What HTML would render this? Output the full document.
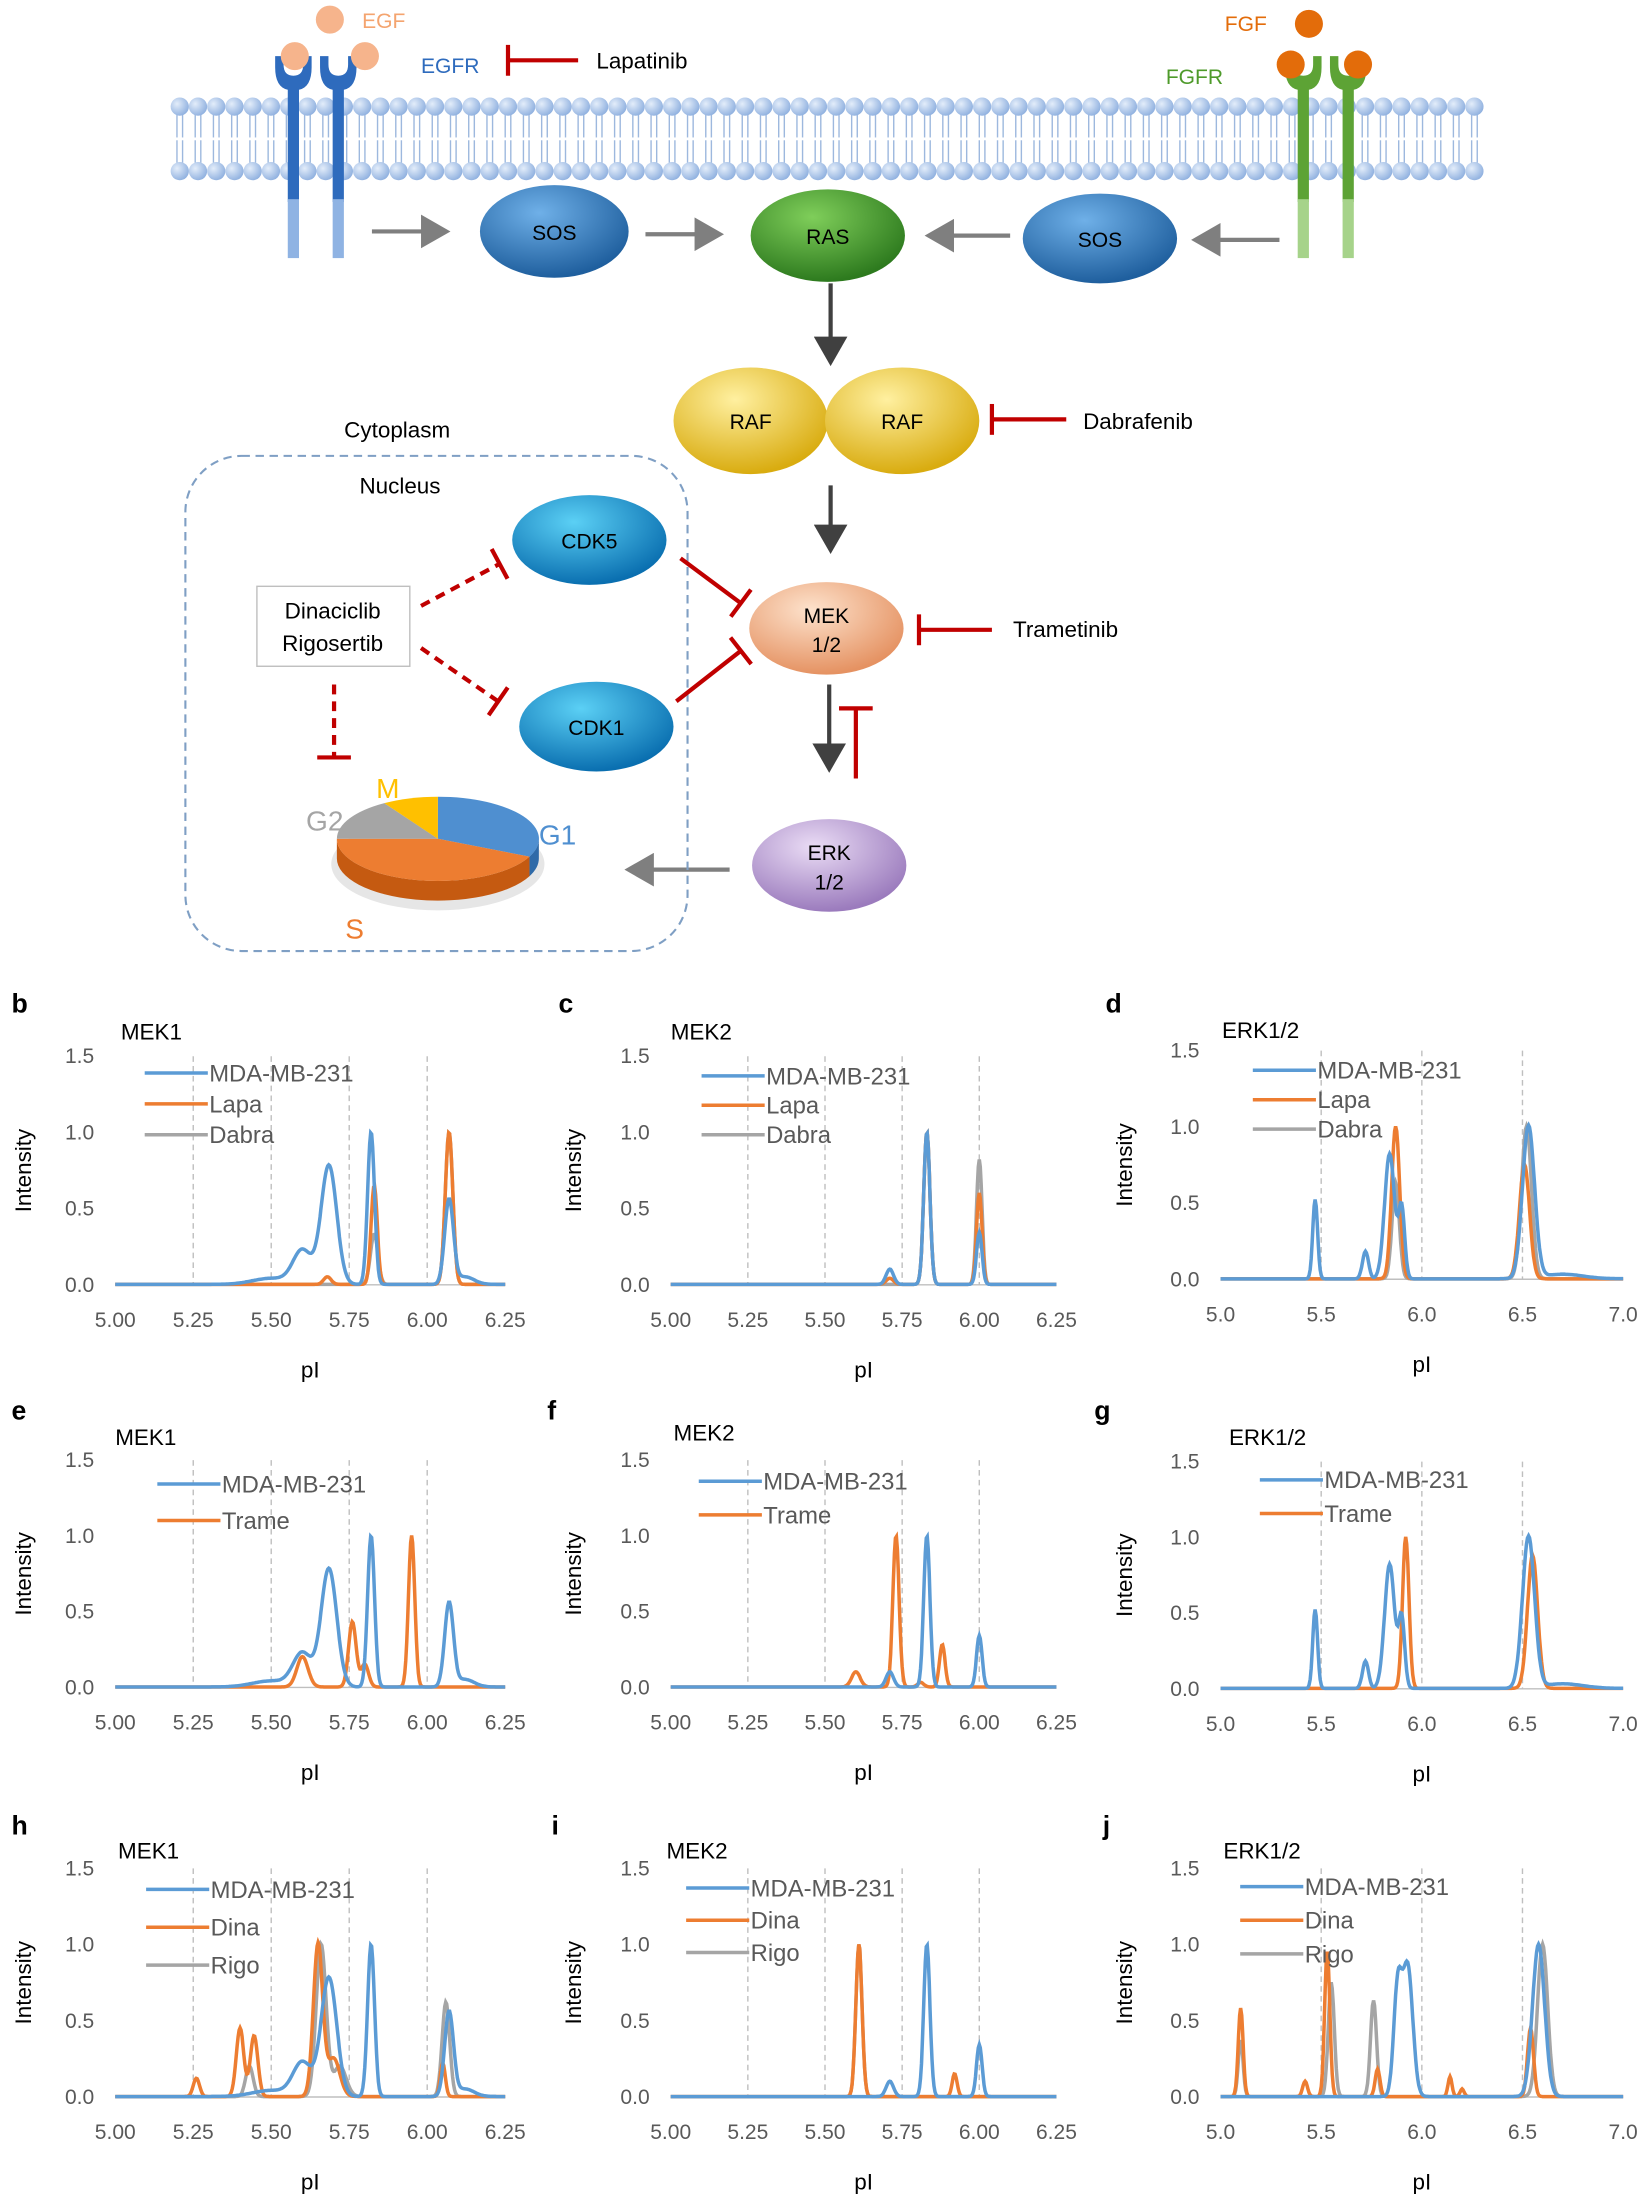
<!DOCTYPE html>
<html><head><meta charset="utf-8"><style>
html,body{margin:0;padding:0;background:#fff;}
svg{display:block;font-family:"Liberation Sans",sans-serif;}
</style></head><body>
<svg id="s" width="1650" height="2205" viewBox="0 0 1176 1572" xmlns="http://www.w3.org/2000/svg">
<defs>
<radialGradient id="gb" cx="40%" cy="30%" r="70%"><stop offset="0" stop-color="#6fb0e8"/><stop offset="1" stop-color="#1f5f9e"/></radialGradient>
<radialGradient id="gg" cx="40%" cy="30%" r="70%"><stop offset="0" stop-color="#7fce5a"/><stop offset="1" stop-color="#2d7a1e"/></radialGradient>
<radialGradient id="gy" cx="40%" cy="30%" r="70%"><stop offset="0" stop-color="#fff0a0"/><stop offset="1" stop-color="#d9ac10"/></radialGradient>
<radialGradient id="gp" cx="40%" cy="30%" r="70%"><stop offset="0" stop-color="#fde2cc"/><stop offset="1" stop-color="#e59262"/></radialGradient>
<radialGradient id="gv" cx="40%" cy="30%" r="70%"><stop offset="0" stop-color="#eadcf5"/><stop offset="1" stop-color="#9b7bbd"/></radialGradient>
<radialGradient id="gc" cx="40%" cy="30%" r="70%"><stop offset="0" stop-color="#5bd0f5"/><stop offset="1" stop-color="#0a6fb0"/></radialGradient>
<radialGradient id="gh" cx="35%" cy="35%" r="70%"><stop offset="0" stop-color="#e3edfa"/><stop offset="1" stop-color="#8fb0df"/></radialGradient>
<marker id="ar" markerWidth="8" markerHeight="8" refX="6" refY="4" orient="auto" markerUnits="strokeWidth"><path d="M0,0 L7,4 L0,8 z" fill="#7f7f7f"/></marker>
<marker id="ad" markerWidth="8" markerHeight="8" refX="6" refY="4" orient="auto" markerUnits="strokeWidth"><path d="M0,0 L7,4 L0,8 z" fill="#404040"/></marker>
</defs>
<g id="g"></g>
</svg>
<script>
var G=document.getElementById('g'),h='';
function A(s){h+=s;}
function T(x,y,t,o){o=o||{};A('<text x="'+x+'" y="'+y+'" font-size="'+(o.s||16)+'" fill="'+(o.c||'#000')+'"'+(o.a?' text-anchor="'+o.a+'"':'')+(o.w?' font-weight="'+o.w+'"':'')+(o.t?' transform="'+o.t+'"':'')+'>'+t+'</text>');}
for(var x=128;x<=1052;x+=13){
 A('<line x1="'+(x-2)+'" y1="82" x2="'+(x-2)+'" y2="98" stroke="#9db8de" stroke-width="1"/><line x1="'+(x+2)+'" y1="82" x2="'+(x+2)+'" y2="98" stroke="#9db8de" stroke-width="1"/>');
 A('<line x1="'+(x-2)+'" y1="100" x2="'+(x-2)+'" y2="116" stroke="#9db8de" stroke-width="1"/><line x1="'+(x+2)+'" y1="100" x2="'+(x+2)+'" y2="116" stroke="#9db8de" stroke-width="1"/>');
 A('<circle cx="'+x+'" cy="76" r="6.5" fill="url(#gh)"/><circle cx="'+x+'" cy="122" r="6.5" fill="url(#gh)"/>');
}
function rec(cx,col,light){
 [cx-16,cx+16].forEach(function(c){
  A('<path d="M'+(c-13)+',40 v8 q0,14 9,16 v80 h8 v-80 q9,-2 9,-16 v-8 h-6 v6 q0,8 -7,8 q-7,0 -7,-8 v-6 z" fill="'+col+'"/>');
  A('<rect x="'+(c-4)+'" y="142" width="8" height="42" fill="'+light+'"/>');
 });
}
rec(225,'#2e6bbd','#8fb3e3');
rec(945,'#5da335','#a6d38a');
A('<circle cx="235" cy="14" r="10" fill="#f6b48c"/><circle cx="210" cy="40" r="10" fill="#f6b48c"/><circle cx="260" cy="40" r="10" fill="#f6b48c"/>');
A('<circle cx="933" cy="17" r="10" fill="#e36c0a"/><circle cx="920" cy="46" r="10" fill="#e36c0a"/><circle cx="968" cy="46" r="10" fill="#e36c0a"/>');
T(258,20,'EGF',{c:'#f4a46f',s:15});T(300,52,'EGFR',{c:'#2e6bbd',s:15});
T(873,22,'FGF',{c:'#e36c0a',s:15});T(831,60,'FGFR',{c:'#4e9a2a',s:15});
function inh(x1,y,x2,b){A('<line x1="'+x1+'" y1="'+y+'" x2="'+x2+'" y2="'+y+'" stroke="#c00000" stroke-width="3"/><line x1="'+b+'" y1="'+(y-11)+'" x2="'+b+'" y2="'+(y+11)+'" stroke="#c00000" stroke-width="3"/>');}
inh(362,43,412,362);T(425,49,'Lapatinib');
inh(707,299,760,707);T(772,306,'Dabrafenib');
inh(655,449,707,655);T(722,454,'Trametinib');
function ell(cx,cy,rx,ry,f,t1,t2){A('<ellipse cx="'+cx+'" cy="'+cy+'" rx="'+rx+'" ry="'+ry+'" fill="'+f+'"/>');if(t2){T(cx,cy-4,t1,{a:'middle',s:15});T(cx,cy+17,t2,{a:'middle',s:15});}else T(cx,cy+6,t1,{a:'middle',s:15});}
ell(395,165,53,33,'url(#gb)','SOS');ell(590,168,55,33,'url(#gg)','RAS');ell(784,170,55,32,'url(#gb)','SOS');
ell(535,300,55,38,'url(#gy)','RAF');ell(643,300,55,38,'url(#gy)','RAF');
ell(589,448,55,33,'url(#gp)','MEK','1/2');ell(591,617,55,33,'url(#gv)','ERK','1/2');
ell(420,385,55,32,'url(#gc)','CDK5');ell(425,518,55,32,'url(#gc)','CDK1');
function arr(x1,y1,x2,y2,m,c){A('<line x1="'+x1+'" y1="'+y1+'" x2="'+x2+'" y2="'+y2+'" stroke="'+(c||'#7f7f7f')+'" stroke-width="3" marker-end="url(#'+(m||'ar')+')"/>');}
arr(265,165,318,165);arr(460,167,513,167);arr(720,168,662,168);arr(912,171,852,171);
arr(592,202,592,258,'ad','#404040');arr(592,346,592,392,'ad','#404040');arr(591,488,591,548,'ad','#404040');
arr(520,620,448,620);
A('<line x1="610" y1="555" x2="610" y2="505" stroke="#c00000" stroke-width="3"/><line x1="598" y1="505" x2="622" y2="505" stroke="#c00000" stroke-width="3"/>');
A('<rect x="132" y="325" width="358" height="353" rx="40" fill="none" stroke="#7f9fc4" stroke-width="1.5" stroke-dasharray="6,4"/>');
T(283,312,'Cytoplasm',{a:'middle',s:16});T(285,352,'Nucleus',{a:'middle',s:16});
A('<rect x="183" y="418" width="109" height="57" fill="#fff" stroke="#bfbfbf"/>');T(237,441,'Dinaciclib',{a:'middle',s:16});T(237,464,'Rigosertib',{a:'middle',s:16});
function rl(x1,y1,x2,y2,d){A('<line x1="'+x1+'" y1="'+y1+'" x2="'+x2+'" y2="'+y2+'" stroke="#c00000" stroke-width="3"'+(d?' stroke-dasharray="7,5"':'')+'/>');
 var dx=x2-x1,dy=y2-y1,L=Math.hypot(dx,dy),px=-dy/L*12,py=dx/L*12;A('<line x1="'+(x2+px)+'" y1="'+(y2+py)+'" x2="'+(x2-px)+'" y2="'+(y2-py)+'" stroke="#c00000" stroke-width="3"/>');}
rl(300,432,356,402,1);rl(300,462,355,500,1);rl(238,488,238,540,1);
rl(485,398,528,430);rl(482,500,528,464);
// pie
(function(){
 var cx=312,cy=598,rx=72,ry=30,d=14;
 function P(t,dy){return (cx+rx*Math.cos(t)).toFixed(1)+','+(cy+(dy||0)+ry*Math.sin(t)).toFixed(1);}
 var D=Math.PI/180;
 var sl=[[-90,25,'#4f8fd0','#2f6aa8'],[25,180,'#ed7d31','#c55a11'],[180,238,'#a5a5a5','#7f7f7f'],[238,270,'#ffc000','#c09000']];
 A('<ellipse cx="'+cx+'" cy="'+(cy+d+4)+'" rx="'+(rx+4)+'" ry="'+(ry+3)+'" fill="#e6e6e6"/>');
 sl.forEach(function(s){var a=Math.max(s[0],0),b=Math.min(s[1],180);if(b>a){
  A('<path d="M'+P(a*D)+' A'+rx+','+ry+' 0 0 1 '+P(b*D)+' L'+P(b*D,d)+' A'+rx+','+ry+' 0 0 0 '+P(a*D,d)+' Z" fill="'+s[3]+'"/>');}});
 sl.forEach(function(s){var la=(s[1]-s[0])>180?1:0;
  A('<path d="M'+cx+','+cy+' L'+P(s[0]*D)+' A'+rx+','+ry+' 0 '+la+' 1 '+P(s[1]*D)+' Z" fill="'+s[2]+'"/>');});
})();
T(218,592,'G2',{c:'#a5a5a5',s:20});T(268,569,'M',{c:'#ffc000',s:20});T(384,602,'G1',{c:'#4f8fd0',s:20});T(246,669,'S',{c:'#ed7d31',s:20});
var B='#5b9bd5',O='#ed7d31',R='#a5a5a5';
function curve(pk,xmin,xmax,X,Y){var p='',n=400;for(var i=0;i<=n;i++){var v=xmin+(xmax-xmin)*i/n,y=0.003;pk.forEach(function(q){y+=q[1]*Math.exp(-Math.pow((v-q[0])/q[2],2)/2);});y=Math.min(y,1.02);p+=(i?'L':'M')+X(v).toFixed(1)+','+Y(y).toFixed(1);}return p;}
function chart(o){
 var X=function(v){return o.x0+(v-o.a)/(o.b-o.a)*(o.x1-o.x0);},Y=function(v){return o.y0-(v/1.5)*(o.y0-o.y1);};
 T(o.lx,o.ly,o.L,{s:19,w:'bold'});T(o.tx,o.ty,o.title,{s:16});
 o.grid.forEach(function(g){A('<line x1="'+X(g)+'" y1="'+o.y1+'" x2="'+X(g)+'" y2="'+o.y0+'" stroke="#bfbfbf" stroke-dasharray="4,3"/>');});
 A('<line x1="'+o.x0+'" y1="'+o.y0+'" x2="'+o.x1+'" y2="'+o.y0+'" stroke="#bfbfbf"/>');
 [0,0.5,1,1.5].forEach(function(v){T(o.x0-15,Y(v)+5,v.toFixed(1),{a:'end',s:15,c:'#595959'});});
 o.ticks.forEach(function(v){T(X(v),o.y0+30,v.toFixed(o.dec),{a:'middle',s:15,c:'#595959'});});
 T((o.x0+o.x1)/2,o.y0+66,'pI',{a:'middle',s:16});
 T(0,0,'Intensity',{a:'middle',s:16,t:'translate('+o.ix+','+(o.y0+o.y1)/2+') rotate(-90)'});
 o.ser.slice().reverse().forEach(function(s){A('<path d="'+curve(s[2],o.a,o.b,X,Y)+'" fill="none" stroke="'+s[1]+'" stroke-width="2.5"/>');});
 o.ser.forEach(function(s,i){var y=o.gy+i*o.gs;A('<line x1="'+o.gx+'" y1="'+y+'" x2="'+(o.gx+45)+'" y2="'+y+'" stroke="'+s[1]+'" stroke-width="2.5"/>');T(o.gx+46,y+6,s[0],{s:17,c:'#595959'});});
}
var c1={x0:82,x1:360,a:5,b:6.25,grid:[5.25,5.5,5.75,6],ticks:[5,5.25,5.5,5.75,6,6.25],dec:2,ix:22};
var c2={x0:478,x1:753,a:5,b:6.25,grid:[5.25,5.5,5.75,6],ticks:[5,5.25,5.5,5.75,6,6.25],dec:2,ix:414};
var c3={x0:870,x1:1157,a:5,b:7,grid:[5.5,6,6.5],ticks:[5,5.5,6,6.5,7],dec:1,ix:807};
function M(a,b){var r={};for(var k in a)r[k]=a[k];for(k in b)r[k]=b[k];return r;}
var bM1=[[5.5,0.04,0.06],[5.6,0.22,0.03],[5.685,0.78,0.025],[5.82,1.0,0.011],[6.07,0.55,0.014],[6.12,0.05,0.03]];
var bM2=[[5.71,0.1,0.012],[5.83,1.0,0.01],[6.0,0.34,0.009]];
var bE=[[5.47,0.52,0.012],[5.72,0.18,0.015],[5.84,0.82,0.025],[5.9,0.45,0.015],[6.53,1.0,0.03],[6.7,0.03,0.1]];
chart(M(c1,{y0:916,y1:753,L:'b',lx:8,ly:722,title:'MEK1',tx:86,ty:741,gx:103,gy:765,gs:22,ser:[['MDA-MB-231',B,bM1],['Lapa',O,[[5.68,0.05,0.012],[5.83,0.65,0.01],[6.07,1.0,0.012]]],['Dabra',R,[[5.83,0.33,0.012],[6.07,1.0,0.012]]]]}));
chart(M(c2,{y0:916,y1:753,L:'c',lx:398,ly:722,title:'MEK2',tx:478,ty:741,gx:500,gy:767,gs:21,ser:[['MDA-MB-231',B,bM2],['Lapa',O,[[5.71,0.04,0.012],[5.83,1.0,0.01],[6.0,0.6,0.009]]],['Dabra',R,[[5.83,1.0,0.01],[6.0,0.82,0.009]]]]}));
chart(M(c3,{y0:912,y1:749,L:'d',lx:788,ly:722,title:'ERK1/2',tx:871,ty:740,gx:893,gy:763,gs:21,ser:[['MDA-MB-231',B,bE],['Lapa',O,[[5.87,1.0,0.02],[6.51,0.75,0.025]]],['Dabra',R,[[5.87,0.63,0.018],[6.52,1.0,0.025]]]]}));
chart(M(c1,{y0:1203,y1:1041,L:'e',lx:8,ly:1012,title:'MEK1',tx:82,ty:1030,gx:112,gy:1058,gs:26,ser:[['MDA-MB-231',B,bM1],['Trame',O,[[5.6,0.2,0.018],[5.76,0.43,0.012],[5.8,0.15,0.012],[5.95,1.0,0.01]]]]}));
chart(M(c2,{y0:1203,y1:1041,L:'f',lx:390,ly:1012,title:'MEK2',tx:480,ty:1027,gx:498,gy:1056,gs:24,ser:[['MDA-MB-231',B,bM2],['Trame',O,[[5.6,0.1,0.014],[5.73,1.0,0.01],[5.81,0.03,0.01],[5.88,0.28,0.009]]]]}));
chart(M(c3,{y0:1204,y1:1042,L:'g',lx:780,ly:1012,title:'ERK1/2',tx:876,ty:1030,gx:898,gy:1055,gs:24,ser:[['MDA-MB-231',B,bE],['Trame',O,[[5.92,1.0,0.016],[6.55,0.88,0.025]]]]}));
chart(M(c1,{y0:1495,y1:1332,L:'h',lx:8,ly:1308,title:'MEK1',tx:84,ty:1325,gx:104,gy:1347,gs:27,ser:[['MDA-MB-231',B,bM1],['Dina',O,[[5.26,0.12,0.01],[5.4,0.45,0.012],[5.445,0.4,0.012],[5.65,1.0,0.015],[5.7,0.25,0.02],[6.05,0.22,0.008]]],['Rigo',R,[[5.43,0.2,0.012],[5.66,1.0,0.016],[5.72,0.2,0.02],[6.06,0.62,0.012]]]]}));
chart(M(c2,{y0:1495,y1:1332,L:'i',lx:393,ly:1308,title:'MEK2',tx:475,ty:1325,gx:489,gy:1346,gs:23,ser:[['MDA-MB-231',B,bM2],['Dina',O,[[5.61,1.0,0.01],[5.92,0.15,0.008]]],['Rigo',R,[[5.61,1.0,0.01]]]]}));
chart(M(c3,{y0:1495,y1:1332,L:'j',lx:786,ly:1308,title:'ERK1/2',tx:872,ty:1325,gx:884,gy:1345,gs:24,ser:[['MDA-MB-231',B,[[5.88,0.7,0.02],[5.93,0.85,0.025],[6.58,1.0,0.03]]],['Dina',O,[[5.1,0.58,0.012],[5.42,0.1,0.012],[5.53,0.95,0.013],[5.78,0.18,0.012],[6.14,0.13,0.01],[6.2,0.05,0.01],[6.54,0.45,0.015]]],['Rigo',R,[[5.1,0.37,0.012],[5.55,0.75,0.015],[5.76,0.63,0.015],[6.6,1.0,0.025]]]]}));
G.innerHTML=h;
</script>
</body></html>
